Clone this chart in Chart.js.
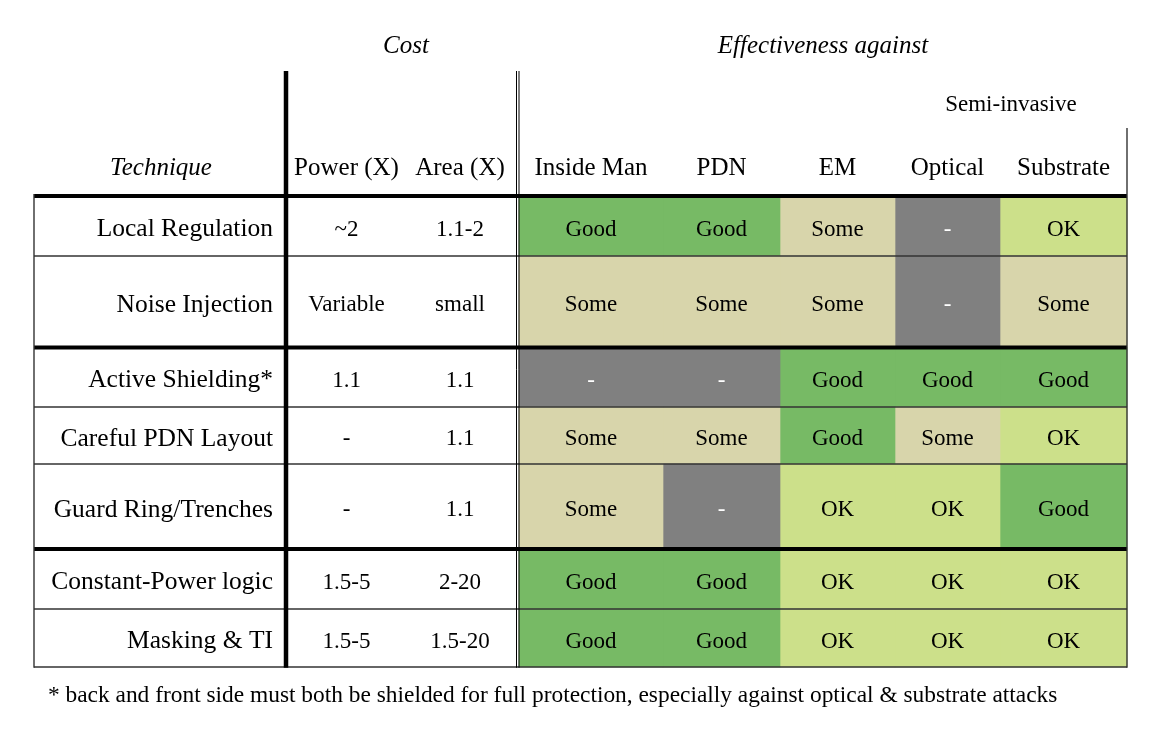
<!DOCTYPE html>
<html>
<head>
<meta charset="utf-8">
<script src="https://cdn.jsdelivr.net/npm/chart.js@4/dist/chart.umd.min.js"></script>
<style>
  html, body { margin: 0; padding: 0; background: #fff; }
  #wrap { width: 1149px; height: 747px; }
</style>
</head>
<body>
<div id="wrap"><canvas id="chart" width="1149" height="747"></canvas></div>
<script>
// table content
const techniques = ['Local Regulation', 'Noise Injection', 'Active Shielding*', 'Careful PDN Layout',
  'Guard Ring/Trenches', 'Constant-Power logic', 'Masking & TI'];
const powerCost = ['~2', 'Variable', '1.1', '-', '-', '1.5-5', '1.5-5'];
const areaCost = ['1.1-2', 'small', '1.1', '1.1', '1.1', '2-20', '1.5-20'];
const attacks = ['Inside Man', 'PDN', 'EM', 'Optical', 'Substrate'];
const insideMan = ['Good', 'Some', '-', 'Some', 'Some', 'Good', 'Good'];
const pdn = ['Good', 'Some', '-', 'Some', '-', 'Good', 'Good'];
const em = ['Some', 'Some', 'Good', 'Good', 'OK', 'OK', 'OK'];
const optical = ['-', '-', 'Good', 'Some', 'OK', 'OK', 'OK'];
const substrate = ['OK', 'Some', 'Good', 'OK', 'Good', 'OK', 'OK'];
const footnote = '* back and front side must both be shielded for full protection, especially against optical & substrate attacks';

// layout (canvas units)
const rowEdges = [196, 256, 347.5, 407, 464, 549, 609, 667];
const thickRows = [0, 2, 5];
const attackEdges = [519, 663, 780, 895, 1000, 1127];
const tableLeft = 34, costLeft = 286, areaLeft = 403, costRight = 517;
const colors = { 'Good': '#77ba65', 'OK': '#cce08a', 'Some': '#d8d5ab', '-': '#808080' };
const serif = '"Liberation Serif", "Times New Roman", serif';

const ratings = [insideMan, pdn, em, optical, substrate];

const datasets = ratings.map((col, c) => ({
  label: attacks[c],
  data: col.map((r, i) => ({ x: (attackEdges[c] + attackEdges[c + 1]) / 2, y: [rowEdges[i], rowEdges[i + 1]] })),
  backgroundColor: col.map(r => colors[r]),
  barThickness: attackEdges[c + 1] - attackEdges[c],
  borderWidth: 0,
  grouped: false,
}));

const tablePlugin = {
  id: 'tableText',
  afterDatasetsDraw(chart) {
    const { ctx, scales: { x, y } } = chart;
    const X = v => x.getPixelForValue(v), Y = v => y.getPixelForValue(v);
    const text = (s, px, py, font, align, color) => {
      ctx.font = font;
      ctx.textAlign = align || 'center';
      ctx.textBaseline = 'middle';
      ctx.fillStyle = color || '#000';
      ctx.fillText(s, X(px), Y(py + 2));
    };
    const line = (x0, y0, x1, y1, w, color) => {
      ctx.beginPath();
      ctx.lineWidth = w;
      ctx.strokeStyle = color;
      ctx.moveTo(X(x0), Y(y0));
      ctx.lineTo(X(x1), Y(y1));
      ctx.stroke();
    };
    ctx.save();

    // row separators
    rowEdges.forEach((ry, i) => {
      if (thickRows.includes(i)) line(tableLeft, ry, attackEdges[5], ry, 4, '#000');
      else line(tableLeft, ry, attackEdges[5], ry, 1.4, '#333');
    });
    // verticals
    line(tableLeft, rowEdges[0] - 2, tableLeft, rowEdges[7] + 0.7, 1.4, '#333');
    line(attackEdges[5], 128, attackEdges[5], rowEdges[7] + 0.7, 1.4, '#333');
    line(costLeft, 71, costLeft, rowEdges[7] + 0.7, 4.5, '#000');
    line(costRight - 0.5, 71, costRight - 0.5, rowEdges[7] + 0.7, 1, '#000');
    line(costRight + 2, 71, costRight + 2, rowEdges[7] + 0.7, 1, '#000');

    // headers
    text('Cost', 406, 44, 'italic 25px ' + serif);
    text('Effectiveness against', (attackEdges[0] + attackEdges[5]) / 2, 44, 'italic 25px ' + serif);
    text('Semi-invasive', (attackEdges[3] + attackEdges[5]) / 2, 103, '23px ' + serif);
    text('Technique', 161, 166, 'italic 25px ' + serif);
    text('Power (X)', (costLeft + areaLeft) / 2 + 2, 166, '25px ' + serif);
    text('Area (X)', (areaLeft + costRight) / 2, 166, '25px ' + serif);
    attacks.forEach((a, c) => text(a, (attackEdges[c] + attackEdges[c + 1]) / 2, 166, '25px ' + serif));

    // body
    techniques.forEach((t, i) => {
      const cy = (rowEdges[i] + rowEdges[i + 1]) / 2 + 1.5;
      text(t, 273, cy, '25.5px ' + serif, 'right');
      text(powerCost[i], (costLeft + areaLeft) / 2 + 2, cy, '23px ' + serif);
      text(areaCost[i], (areaLeft + costRight) / 2, cy, '23px ' + serif);
      ratings.forEach((col, c) => {
        text(col[i], (attackEdges[c] + attackEdges[c + 1]) / 2, cy, '23px ' + serif,
          'center', col[i] === '-' ? '#fff' : '#000');
      });
    });

    text(footnote, 48, 694, '23.4px ' + serif, 'left');
    ctx.restore();
  }
};

new Chart(document.getElementById('chart'), {
  type: 'bar',
  data: { datasets },
  options: {
    responsive: false,
    animation: false,
    devicePixelRatio: 1,
    layout: { padding: 0 },
    scales: {
      x: { type: 'linear', min: 0, max: 1149, offset: false, display: false },
      y: { type: 'linear', min: 0, max: 747, reverse: true, display: false }
    },
    plugins: { legend: { display: false }, tooltip: { enabled: false } }
  },
  plugins: [tablePlugin]
});
</script>
</body>
</html>
